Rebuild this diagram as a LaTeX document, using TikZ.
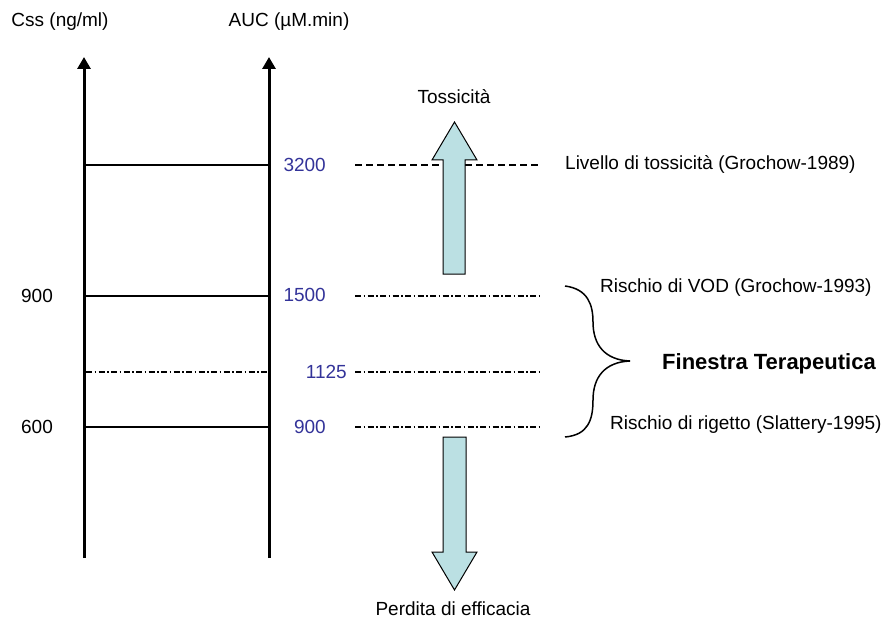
\documentclass[tikz,border=0pt]{standalone}
\usepackage{fontspec}
\setmainfont{Liberation Sans}
\usetikzlibrary{arrows.meta}
\definecolor{numblue}{RGB}{51,51,153}
\definecolor{arrowfill}{RGB}{187,224,227}
\begin{document}
\begin{tikzpicture}[x=1pt,y=-1pt,
  every node/.style={font=\fontsize{19}{22}\selectfont, inner sep=0pt},
  axisline/.style={line width=3pt, -{Triangle[width=13pt,length=12pt]}},
  levelline/.style={line width=1.5pt},
  dashline/.style={line width=2pt, dash pattern=on 7pt off 4pt},
  dotdashline/.style={line width=2pt, dash pattern=on 6pt off 2.5pt on 1.5pt off 2.5pt},
  num/.style={text=numblue, anchor=east},
  bigarrow/.style={draw=black, line width=1pt, fill=arrowfill, line join=miter},
  bracestyle/.style={line width=1.5pt}]
\useasboundingbox (0,0) rectangle (889,623);

% headers
\node (hcss) at (60,22) {Css (ng/ml)};
\node (hauc) at (289,22) {AUC (µM.min)};

% axes
\coordinate (lb) at (84,558); \coordinate (lt) at (84,57);
\coordinate (rb) at (269,558); \coordinate (rt) at (269,57);
\draw[axisline] (lb) -- (lt);
\draw[axisline] (rb) -- (rt);

% horizontal levels between axes
\coordinate (l1) at (84,165); \coordinate (r1) at (269,165);
\coordinate (l2) at (84,296); \coordinate (r2) at (269,296);
\coordinate (l3) at (86,372); \coordinate (r3) at (268,372);
\coordinate (l4) at (84,427); \coordinate (r4) at (269,427);
\draw[levelline] (l1) -- (r1);
\draw[levelline] (l2) -- (r2);
\draw[dotdashline] (l3) -- (r3);
\draw[levelline] (l4) -- (r4);

% left labels
\node (c900) at (37,296) {900};
\node (c600) at (37,427) {600};

% AUC numbers
\node[num] (n3200) at (326,165) {3200};
\node[num] (n1500) at (326,295) {1500};
\node[num] (n1125) at (347,372) {1125};
\node[num] (n900) at (326,427) {900};

% right level lines
\coordinate (d1a) at (355,165); \coordinate (d1b) at (541,165);
\coordinate (d2a) at (355,296); \coordinate (d2b) at (542,296);
\coordinate (d3a) at (355,372); \coordinate (d3b) at (542,372);
\coordinate (d4a) at (355,427); \coordinate (d4b) at (540,427);
\draw[dashline] (d1a) -- (d1b);
\draw[dotdashline] (d2a) -- (d2b);
\draw[dotdashline] (d3a) -- (d3b);
\draw[dotdashline] (d4a) -- (d4b);

% big arrows
\draw[bigarrow] (443,274) -- (443,160) -- (432,160) -- (454.5,122) -- (477,160) -- (465,160) -- (465,274) -- cycle;
\draw[bigarrow] (443,437) -- (443,552) -- (432,552) -- (454.5,590) -- (477,552) -- (466,552) -- (466,437) -- cycle;
\node (tox) at (454,97) {Tossicità};
\node (perd) at (453,609) {Perdita di efficacia};

% right labels
\node[anchor=west] (liv) at (565,164) {Livello di tossicità (Grochow-1989)};
\node[anchor=west] (vod) at (600,288) {Rischio di VOD (Grochow-1993)};
\node[anchor=west, font=\fontsize{22}{26}\selectfont\bfseries] (fin) at (662,364) {Finestra Terapeutica};
\node[anchor=west] (rig) at (610,425) {Rischio di rigetto (Slattery-1995)};

% brace
\draw[bracestyle] (565,286) .. controls (588,289) and (593,305) .. (593,322)
  .. controls (593,345) and (605,360) .. (630,361)
  .. controls (605,362) and (593,377) .. (593,400)
  .. controls (593,420) and (588,435) .. (565,437);
\end{tikzpicture}
\end{document}
